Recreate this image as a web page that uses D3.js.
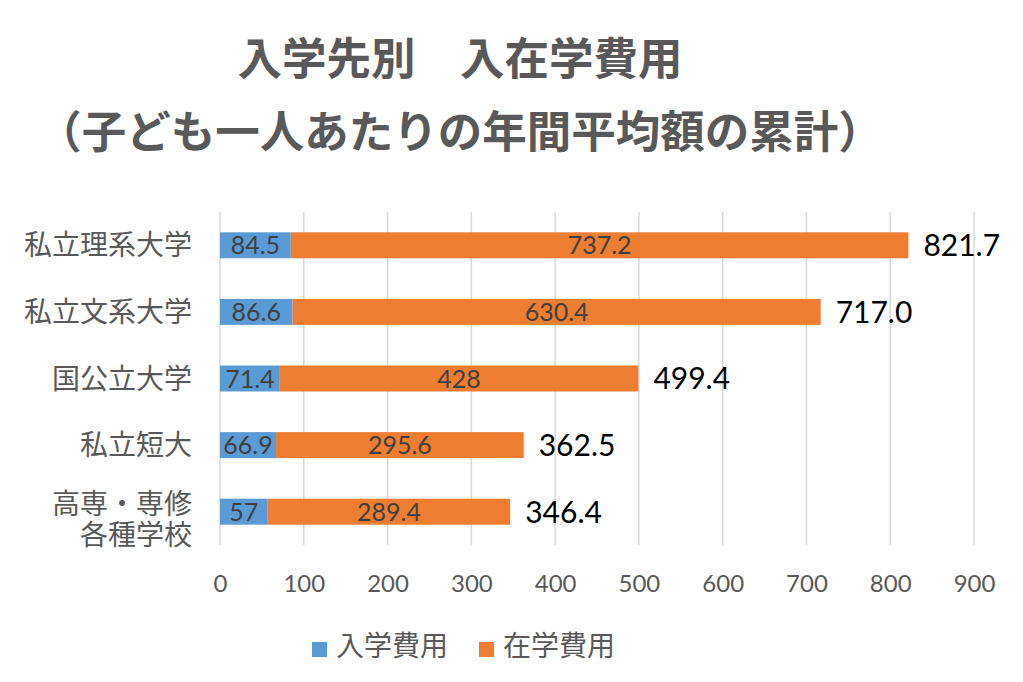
<!DOCTYPE html>
<html><head><meta charset="utf-8">
<script src="https://cdn.jsdelivr.net/npm/d3@7"></script>
<style>body{margin:0;background:#fff;} svg{display:block;}</style>
</head><body>
<svg id="c" width="1023" height="682"></svg>
<script>
const categories = ["私立理系大学","私立文系大学","国公立大学","私立短大","高専・専修\n各種学校"];
const entryCost = [84.5, 86.6, 71.4, 66.9, 57];
const stayCost = [737.2, 630.4, 428, 295.6, 289.4];
const totals = ["821.7","717.0","499.4","362.5","346.4"];
const entryLabels = ["84.5","86.6","71.4","66.9","57"];
const stayLabels = ["737.2","630.4","428","295.6","289.4"];
const seriesNames = ["入学費用","在学費用"];
const xTicks = [0,100,200,300,400,500,600,700,800,900];
const titleLines = ["入学先別　入在学費用","（子ども一人あたりの年間平均額の累計）"];

const colors = ["#5B9BD5","#ED7D31"];
const jp = "'Noto Sans CJK JP', sans-serif";
const num = "Lato, 'Noto Sans', sans-serif";
const svg = d3.select("#c");

const x = d3.scaleLinear().domain([0,900]).range([220,974]);
const y = d3.scaleBand().domain(categories).range([212,545]).paddingInner(0.61).paddingOuter(0.305);

// title
svg.selectAll("text.title").data(titleLines).join("text")
  .attr("x", 460).attr("y",(d,i)=> 59 + i*73).attr("dy","0.36em")
  .attr("text-anchor","middle").attr("fill","#595959")
  .attr("font-family",jp).attr("font-weight","bold").attr("font-size",44.5)
  .text(d=>d);

// grid
svg.append("g").selectAll("line").data(xTicks).join("line")
  .attr("x1",d=>x(d)).attr("x2",d=>x(d)).attr("y1",212).attr("y2",545)
  .attr("stroke","#d9d9d9").attr("stroke-width",1.5);

// x axis labels
const xAxis = d3.axisBottom(x).tickValues(xTicks).tickSize(0).tickPadding(0);
const gx = svg.append("g").attr("transform","translate(0,583)").call(xAxis);
gx.select(".domain").remove();
gx.selectAll("text").attr("font-family",num).attr("font-size",24).attr("fill","#595959").attr("dy","0.36em");

// bars
const data = categories.map((c,i)=>({c, e:entryCost[i], s:stayCost[i], el:entryLabels[i], sl:stayLabels[i], t:totals[i]}));
const g = svg.append("g");
g.selectAll("rect.e").data(data).join("rect")
  .attr("x",x(0)).attr("y",d=>y(d.c)).attr("width",d=>x(d.e)-x(0)).attr("height",y.bandwidth()).attr("fill",colors[0]);
g.selectAll("rect.s").data(data).join("rect")
  .attr("x",d=>x(d.e)).attr("y",d=>y(d.c)).attr("width",d=>x(d.e+d.s)-x(d.e)).attr("height",y.bandwidth()).attr("fill",colors[1]);
g.selectAll("text.el").data(data).join("text")
  .attr("x",d=>(x(0)+x(d.e))/2).attr("y",d=>y(d.c)+y.bandwidth()/2).attr("dy","0.36em")
  .attr("text-anchor","middle").attr("font-family",num).attr("font-size",25).attr("fill","#404040").text(d=>d.el);
g.selectAll("text.sl").data(data).join("text")
  .attr("x",d=>(x(d.e)+x(d.e+d.s))/2).attr("y",d=>y(d.c)+y.bandwidth()/2).attr("dy","0.36em")
  .attr("text-anchor","middle").attr("font-family",num).attr("font-size",25).attr("fill","#404040").text(d=>d.sl);
g.selectAll("text.t").data(data).join("text")
  .attr("x",d=>x(d.e+d.s)+15).attr("y",d=>y(d.c)+y.bandwidth()/2).attr("dy","0.36em")
  .attr("font-family",num).attr("font-size",30).attr("fill","#000").text(d=>d.t);

// y labels
const yl = svg.append("g");
data.forEach(d=>{
  const lines = d.c.split("\n");
  const cy = y(d.c)+y.bandwidth()/2 + (lines.length>1 ? 8 : 0);
  lines.forEach((l,i)=>{
    yl.append("text").attr("text-anchor","end").attr("font-family",jp).attr("font-size",28).attr("fill","#595959")
      .attr("x",192).attr("y",cy + (i-(lines.length-1)/2)*31).attr("dy","0.36em").text(l);
  });
});

// legend
const lg = svg.append("g");
const lx = [312, 479];
seriesNames.forEach((n,i)=>{
  lg.append("rect").attr("x",lx[i]).attr("y",642).attr("width",15).attr("height",15).attr("fill",colors[i]);
  lg.append("text").attr("x",lx[i]+24).attr("y",646).attr("dy","0.36em").attr("font-family",jp).attr("font-size",28).attr("fill","#595959").text(n);
});
</script>
</body></html>
